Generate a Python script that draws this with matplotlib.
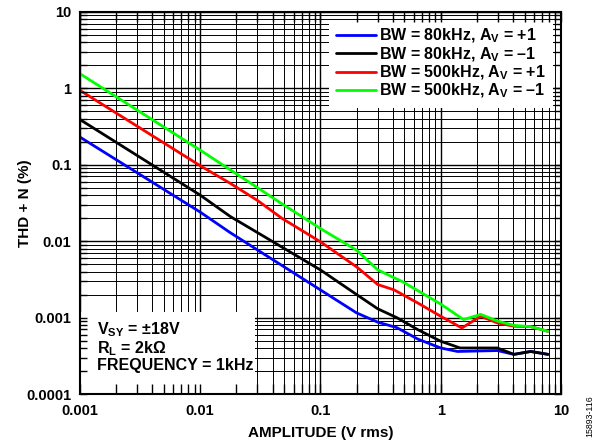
import numpy as np
import matplotlib
matplotlib.use('Agg')
import matplotlib.pyplot as plt
import matplotlib.ticker as mtick
from matplotlib.patches import Rectangle

plt.rcParams['font.family'] = ['Liberation Sans', 'DejaVu Sans']
plt.rcParams['mathtext.fontset'] = 'custom'
plt.rcParams['mathtext.rm'] = 'Liberation Sans:bold'
plt.rcParams['mathtext.it'] = 'Liberation Sans:bold'
plt.rcParams['mathtext.bf'] = 'Liberation Sans:bold'
plt.rcParams['mathtext.default'] = 'rm'

# amplitude (V rms) and THD+N (%)
amp_blue = [0.001, 0.01, 0.0178, 0.1, 0.2, 0.3, 0.43, 0.65, 1.0, 1.38, 2.96, 4.06, 5.6, 7.8]
thd_blue = [0.23, 0.024, 0.0129, 0.0023, 0.00115, 0.00087, 0.00074, 0.00052, 0.0004, 0.00036, 0.00037, 0.00033, 0.00036, 0.00033]

amp_black = [0.001, 0.01, 0.0178, 0.1, 0.2, 0.3, 0.43, 0.65, 1.0, 1.45, 2.96, 4.06, 5.6, 7.8]
thd_black = [0.39, 0.040, 0.021, 0.0042, 0.0020, 0.0013, 0.001, 0.00069, 0.00049, 0.0004, 0.0004, 0.00033, 0.00036, 0.00033]

amp_red = [0.001, 0.01, 0.0178, 0.03, 0.048, 0.1, 0.2, 0.3, 0.41, 0.65, 1.0, 1.5, 2.15, 2.96, 4.06, 5.6, 7.8]
thd_red = [0.94, 0.097, 0.057, 0.034, 0.0198, 0.0098, 0.0046, 0.0027, 0.0023, 0.00154, 0.00104, 0.00073, 0.00104, 0.00085, 0.00077, 0.00076, 0.00066]

amp_green = [0.001, 0.01, 0.03, 0.046, 0.07, 0.1, 0.2, 0.3, 0.49, 1.0, 1.55, 2.15, 2.96, 4.06, 5.6, 7.8]
thd_green = [1.55, 0.155, 0.05, 0.032, 0.021, 0.0146, 0.0076, 0.0042, 0.0029, 0.0015, 0.00094, 0.0011, 0.0009, 0.00079, 0.00076, 0.00066]

labels = ['BW = 80kHz, A$_{V}$ = +1', 'BW = 80kHz, A$_{V}$ = \u20131',
          'BW = 500kHz, A$_{V}$ = +1', 'BW = 500kHz, A$_{V}$ = \u20131']
colors = ['#0000ff', '#000000', '#ff0000', '#00ff00']

fig = plt.figure(figsize=(6, 4.44), dpi=100)
pos = [0.133, 0.1126, 0.802, 0.861]
ax = fig.add_axes(pos)
ax.set_xscale('log')
ax.set_yscale('log')
ax.set_xlim(0.001, 10)
ax.set_ylim(0.0001, 10)
ax.grid(True, which='major', color='black', lw=1.0)
ax.grid(True, which='minor', color='black', lw=0.7)
ax.tick_params(which='both', length=0, labelleft=False, labelbottom=False)
for s in ax.spines.values():
    s.set_visible(False)

series = [(amp_blue, thd_blue), (amp_black, thd_black), (amp_red, thd_red), (amp_green, thd_green)]
for (x, y), lab, c in zip(series, labels, colors):
    ax.plot(x, y, color=c, lw=2.0, label=lab, solid_capstyle='round')

leg = ax.legend(loc='upper right', borderaxespad=0.5, fancybox=False, framealpha=1,
                edgecolor='none', prop={'weight': 'bold', 'size': 11.5},
                handlelength=2.5, handletextpad=0.2, labelspacing=0.0,
                borderpad=0.45)

# white patch behind the conditions text
ax.add_patch(Rectangle((0, 0), 0.364, 0.215, transform=ax.transAxes,
                       facecolor='white', edgecolor='none', zorder=4))
ax.text(0.035, 0.055, 'V$_{SY}$ = \u00b118V\nR$_{L}$ = 2k\u03a9\nFREQUENCY = 1kHz',
        transform=ax.transAxes, ha='left', va='bottom', fontsize=11.5,
        fontweight='bold', linespacing=1.0, zorder=5)

# overlay axes for ticks / frame so they sit over legend and box
ax2 = fig.add_axes(pos)
ax2.patch.set_visible(False)
ax2.set_xscale('log')
ax2.set_yscale('log')
ax2.set_xlim(0.001, 10)
ax2.set_ylim(0.0001, 10)
ax2.tick_params(which='both', direction='in', top=True, right=True, width=1)
ax2.tick_params(which='major', labelsize=10.5)
ax2.tick_params(axis='x', which='both', length=7)
ax2.tick_params(axis='y', which='both', length=5)
ax2.tick_params(axis='x', which='major', pad=7)
ax2.tick_params(axis='y', which='major', pad=6)
fmt = mtick.FuncFormatter(lambda v, p: '{:g}'.format(v))
ax2.xaxis.set_major_formatter(fmt)
ax2.yaxis.set_major_formatter(fmt)
ax2.xaxis.set_minor_formatter(mtick.NullFormatter())
ax2.yaxis.set_minor_formatter(mtick.NullFormatter())
for t in ax2.get_xticklabels() + ax2.get_yticklabels():
    t.set_fontweight('bold')
for s in ax2.spines.values():
    s.set_linewidth(1.5)
ax2.set_xlabel('AMPLITUDE (V rms)', fontsize=11, fontweight='bold', labelpad=6)
ax2.set_ylabel('THD + N (%)', fontsize=11, fontweight='bold')
ax2.yaxis.set_label_coords(-0.1, 0.5)

fig.text(0.983, 0.063, '15893-116', rotation=90, fontsize=6.3,
         ha='center', va='center')

fig.savefig('out.png', dpi=100)
